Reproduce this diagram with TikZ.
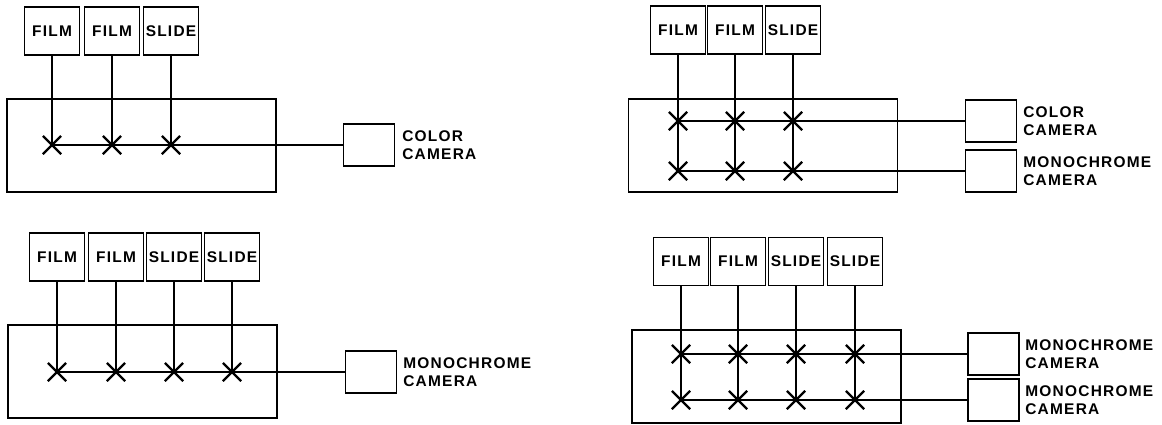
\documentclass[tikz,border=0pt]{standalone}
\usepackage{fontspec}
\newfontfamily\lblfont[LetterSpace=8]{Liberation Sans}
\usetikzlibrary{shapes.misc}

\begin{document}
\begin{tikzpicture}[x=0.025cm, y=-0.025cm, font={\lblfont\bfseries\fontsize{11}{12.7}\selectfont}, source/.style={rectangle, draw, line width=1.2pt, minimum width=1.38cm, minimum height=1.2cm, inner sep=0pt}, switcher/.style={rectangle, draw, line width=1.2pt, minimum width=6.72cm, minimum height=2.32cm}, camera/.style={rectangle, draw, line width=1.2pt, minimum width=1.275cm, minimum height=1.05cm}, camlabel/.style={anchor=west, align=left, inner sep=0pt}, xpoint/.style={cross out, draw, line width=1.6pt, minimum size=0.4cm, inner sep=0pt}, wire/.style={line width=1pt}]
\useasboundingbox (0,0) rectangle (1162,424);
\node[source] (fa1) at (52,31) {FILM};
\node[source] (fa2) at (112,31) {FILM};
\node[source] (fa3) at (171,31) {SLIDE};
\node[switcher] (sa) at (141.5,145.5) {};
\node[xpoint] (xa1) at (52,145) {}; \node[xpoint] (xa2) at (112,145) {}; \node[xpoint] (xa3) at (171,145) {};
\node[camera] (ca) at (369,145) {};
\node[camlabel] (la) at (402,145) {COLOR\\CAMERA};
\draw[wire] (fa1) -- (xa1.center); \draw[wire] (fa2) -- (xa2.center); \draw[wire] (fa3) -- (xa3.center);
\draw[wire] (xa1.center) -- (ca);
\node[source] (fb1) at (678,30) {FILM};
\node[source] (fb2) at (735,30) {FILM};
\node[source] (fb3) at (793,30) {SLIDE};
\node[switcher] (sb) at (763,145.5) {};
\node[xpoint] (xb11) at (678,121) {}; \node[xpoint] (xb12) at (735,121) {}; \node[xpoint] (xb13) at (793,121) {};
\node[xpoint] (xb21) at (678,171) {}; \node[xpoint] (xb22) at (735,171) {}; \node[xpoint] (xb23) at (793,171) {};
\node[camera] (cb1) at (991,121) {};
\node[camera] (cb2) at (991,171) {};
\node[camlabel] (lb1) at (1023,121) {COLOR\\CAMERA};
\node[camlabel] (lb2) at (1023,171) {MONOCHROME\\CAMERA};
\draw[wire] (fb1) -- (xb21.center); \draw[wire] (fb2) -- (xb22.center); \draw[wire] (fb3) -- (xb23.center);
\draw[wire] (xb11.center) -- (cb1); \draw[wire] (xb21.center) -- (cb2);
\node[source] (fc1) at (57,257) {FILM};
\node[source] (fc2) at (116,257) {FILM};
\node[source] (fc3) at (174,257) {SLIDE};
\node[source] (fc4) at (232,257) {SLIDE};
\node[switcher] (sc) at (142.5,371.5) {};
\node[xpoint] (xc1) at (57,372) {}; \node[xpoint] (xc2) at (116,372) {}; \node[xpoint] (xc3) at (174,372) {}; \node[xpoint] (xc4) at (232,372) {};
\node[camera] (cc) at (371,372) {};
\node[camlabel] (lc) at (403,372) {MONOCHROME\\CAMERA};
\draw[wire] (fc1) -- (xc1.center); \draw[wire] (fc2) -- (xc2.center); \draw[wire] (fc3) -- (xc3.center); \draw[wire] (fc4) -- (xc4.center);
\draw[wire] (xc1.center) -- (cc);
\node[source] (fd1) at (681,261.5) {FILM};
\node[source] (fd2) at (738,261.5) {FILM};
\node[source] (fd3) at (796,261.5) {SLIDE};
\node[source] (fd4) at (855,261.5) {SLIDE};
\node[switcher] (sd) at (766.5,376.5) {};
\node[xpoint] (xd11) at (681,354) {}; \node[xpoint] (xd12) at (738,354) {}; \node[xpoint] (xd13) at (796,354) {}; \node[xpoint] (xd14) at (855,354) {};
\node[xpoint] (xd21) at (681,400) {}; \node[xpoint] (xd22) at (738,400) {}; \node[xpoint] (xd23) at (796,400) {}; \node[xpoint] (xd24) at (855,400) {};
\node[camera] (cd1) at (993.5,354) {};
\node[camera] (cd2) at (993.5,400) {};
\node[camlabel] (ld1) at (1025,354) {MONOCHROME\\CAMERA};
\node[camlabel] (ld2) at (1025,400) {MONOCHROME\\CAMERA};
\draw[wire] (fd1) -- (xd21.center); \draw[wire] (fd2) -- (xd22.center); \draw[wire] (fd3) -- (xd23.center); \draw[wire] (fd4) -- (xd24.center);
\draw[wire] (xd11.center) -- (cd1); \draw[wire] (xd21.center) -- (cd2);
\end{tikzpicture}
\end{document}
